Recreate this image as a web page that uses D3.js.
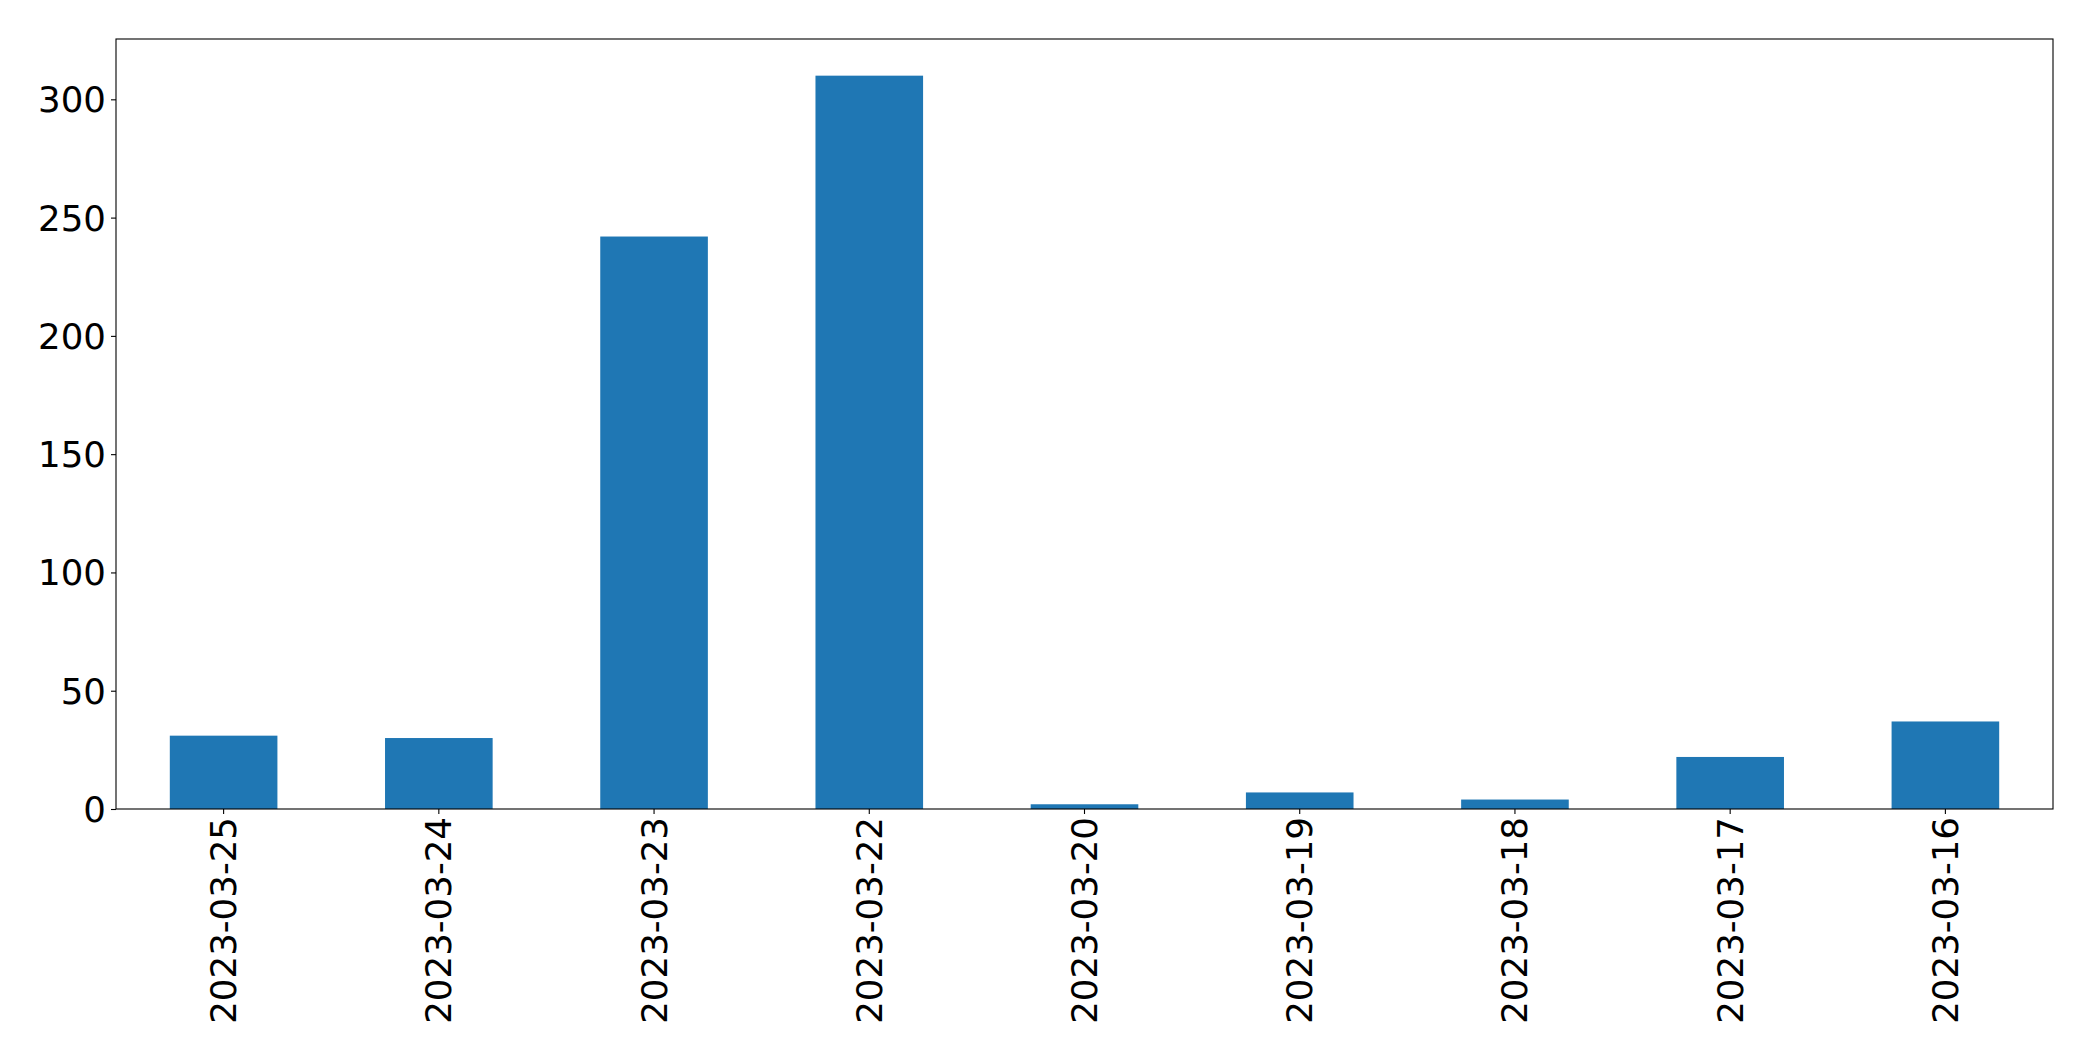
<!DOCTYPE html>
<html>
<head>
<meta charset="utf-8">
<script src="https://cdn.jsdelivr.net/npm/d3@7"></script>
<style>
  html, body { margin: 0; padding: 0; background: #fff; }
  svg { display: block; }
  text { font-family: "DejaVu Sans", sans-serif; fill: #000; }
</style>
</head>
<body>
<svg id="chart" width="2093" height="1061"></svg>
<script>
const categories = ["2023-03-25", "2023-03-24", "2023-03-23", "2023-03-22", "2023-03-20", "2023-03-19", "2023-03-18", "2023-03-17", "2023-03-16"];
const values = [31, 30, 242, 310, 2, 7, 4, 22, 37];
const yTicks = [0, 50, 100, 150, 200, 250, 300];

const W = 2093, H = 1061;
const margin = { left: 116, right: W - 2053, top: 39, bottom: H - 809 };
const innerW = W - margin.left - margin.right;
const innerH = H - margin.top - margin.bottom;

const svg = d3.select("#chart");
const g = svg.append("g").attr("transform", `translate(${margin.left},${margin.top})`);

const x = d3.scaleBand().domain(categories).range([0, innerW]).paddingInner(0.5).paddingOuter(0.25);
const y = d3.scaleLinear().domain([0, d3.max(values) * 1.05]).range([innerH, 0]);

g.selectAll("rect.bar")
  .data(categories.map((c, i) => ({ c, v: values[i] })))
  .enter().append("rect")
  .attr("class", "bar")
  .attr("x", d => x(d.c))
  .attr("width", x.bandwidth())
  .attr("y", d => y(d.v))
  .attr("height", d => y(0) - y(d.v))
  .attr("fill", "#1f77b4");

const fontSize = 35.6;

const yAxis = g.append("g")
  .call(d3.axisLeft(y).tickValues(yTicks).tickSize(5).tickPadding(5).tickFormat(d3.format("d")));
yAxis.select(".domain").remove();
yAxis.selectAll("line").attr("stroke", "#000").attr("stroke-width", 1.1);
yAxis.selectAll("text").style("font-size", fontSize + "px").attr("dy", "0.35em");

const xAxis = g.append("g").attr("transform", `translate(0,${innerH})`)
  .call(d3.axisBottom(x).tickSize(5).tickPadding(5));
xAxis.select(".domain").remove();
xAxis.selectAll("line").attr("stroke", "#000").attr("stroke-width", 1.1);
xAxis.selectAll("text")
  .style("font-size", fontSize + "px")
  .attr("text-anchor", "end")
  .attr("dominant-baseline", "central")
  .attr("dy", null)
  .attr("transform", "translate(0,8) rotate(-90)")
  .attr("x", 0)
  .attr("y", 0);

g.append("rect")
  .attr("x", 0).attr("y", 0)
  .attr("width", innerW).attr("height", innerH)
  .attr("fill", "none").attr("stroke", "#000").attr("stroke-width", 1.1);
</script>
</body>
</html>
